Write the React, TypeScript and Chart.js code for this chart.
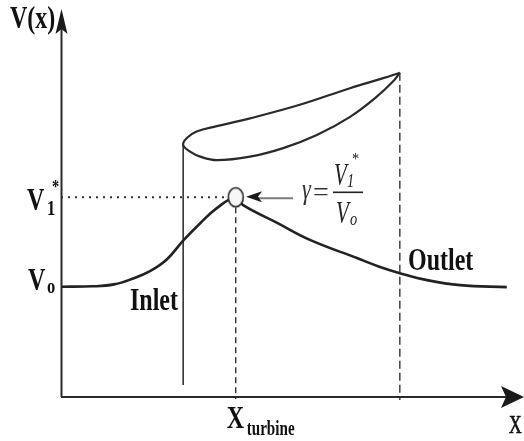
import React, { useEffect, useRef } from "react";
import { Chart, registerables } from "chart.js";

Chart.register(...registerables);

// ---- values (arbitrary units: x 0..100, y 0..100) ----
const V0 = 28.5; // free-stream velocity level
const V1 = 51.6; // velocity at the turbine
const X_TURBINE = 37.9; // turbine position
const X_WAKE_END = 73.5; // end of the stream-tube lobe
const X_STEM = 26.5; // left vertical line
const STEM_BOTTOM = 3.1;
const STEM_TOP = 65.1;

const velocityX = [0, 6.9, 11.5, 15.6, 19.3, 23.0, 26.5, 30.2, 33.8, 37.9, 39.5, 46.9, 54.0, 64.2, 69.2, 73.5, 79.4, 86.6, 96.7];
const velocityY = [28.5, 28.6, 29.1, 30.6, 32.5, 35.6, 40.4, 44.9, 48.8, 51.6, 49.6, 45.0, 40.6, 35.9, 33.6, 32.0, 30.2, 28.9, 28.4];

const lobeX = [73.5, 69.9, 62.7, 51.8, 41.0, 33.8, 29.4, 27.3, 26.5, 28.0, 30.2, 33.8, 41.0, 48.2, 55.5, 62.7, 68.5, 72.0, 73.5];
const lobeY = [83.8, 82.4, 79.8, 75.5, 72.0, 70.0, 68.6, 66.9, 65.1, 63.4, 62.1, 61.2, 62.1, 64.3, 67.7, 72.4, 77.6, 81.5, 83.8];

const axisTitles = ["V(x)", "X"];
const regionLabels = ["Inlet", "Outlet"];

const pts = (xs: number[], ys: number[]) => xs.map((x, i) => ({ x, y: ys[i] }));

function txt(ctx: CanvasRenderingContext2D, s: string, x: number, y: number, font: string, sx = 0.75, color = "#111", stroke = 0) {
  ctx.save();
  ctx.font = font;
  ctx.fillStyle = color;
  ctx.textAlign = "left";
  ctx.textBaseline = "alphabetic";
  ctx.translate(x, y);
  ctx.scale(sx, 1);
  ctx.fillText(s, 0, 0);
  if (stroke > 0) {
    ctx.strokeStyle = color;
    ctx.lineWidth = stroke;
    ctx.strokeText(s, 0, 0);
  }
  ctx.restore();
}

function stealth(ctx: CanvasRenderingContext2D, tip: [number, number], dir: [number, number], len: number, half: number, notch: number, color: string) {
  const [tx, ty] = tip;
  const [dx, dy] = dir;
  const nx = -dy, ny = dx;
  ctx.save();
  ctx.fillStyle = color;
  ctx.beginPath();
  ctx.moveTo(tx, ty);
  ctx.lineTo(tx - dx * len + nx * half, ty - dy * len + ny * half);
  ctx.lineTo(tx - dx * (len - notch), ty - dy * (len - notch));
  ctx.lineTo(tx - dx * len - nx * half, ty - dy * len - ny * half);
  ctx.closePath();
  ctx.fill();
  ctx.restore();
}

const SERIF = "'Liberation Serif', 'DejaVu Serif', serif";

const annotate = {
  id: "annotate",
  afterDatasetsDraw(chart: any) {
    const ctx: CanvasRenderingContext2D = chart.ctx;
    const xs = chart.scales.x;
    const ys = chart.scales.y;
    const { left, bottom } = chart.chartArea;
    const px = (v: number) => xs.getPixelForValue(v);
    const py = (v: number) => ys.getPixelForValue(v);

    // axes
    ctx.save();
    ctx.strokeStyle = "#2a2a2a";
    ctx.lineWidth = 2;
    ctx.beginPath();
    ctx.moveTo(left + 0.5, bottom);
    ctx.lineTo(left + 0.5, 28);
    ctx.moveTo(left, bottom);
    ctx.lineTo(506, bottom);
    ctx.stroke();
    ctx.restore();
    stealth(ctx, [left + 0.5, 9], [0, -1], 25, 6, 5, "#1a1a1a");
    stealth(ctx, [524, bottom], [1, 0], 23, 11, 5, "#1a1a1a");

    // axis titles
    txt(ctx, axisTitles[0], 10, 28, `bold 32px ${SERIF}`, 0.75);
    txt(ctx, axisTitles[1], 509, 433, `25px ${SERIF}`, 0.7, "#111", 0.7);

    // V1* label
    const y1 = py(V1);
    txt(ctx, "V", 27, y1 + 13, `bold 32px ${SERIF}`, 0.75);
    txt(ctx, "1", 47, y1 + 18, `bold 22px ${SERIF}`, 0.75);
    txt(ctx, "*", 52, y1 - 4, `bold 18px ${SERIF}`, 0.8);

    // Vo label
    const y0 = py(V0);
    txt(ctx, "V", 28, y0 + 3.5, `bold 32px ${SERIF}`, 0.75);
    txt(ctx, "o", 47, y0 + 6.5, `bold 22px ${SERIF}`, 0.75);

    // region labels
    txt(ctx, regionLabels[0], 130, 310, `bold 32px ${SERIF}`, 0.75);
    txt(ctx, regionLabels[1], 408, 270, `bold 32px ${SERIF}`, 0.75);

    // X_turbine
    const xt = px(X_TURBINE);
    txt(ctx, "X", xt - 9, 428, `bold 32px ${SERIF}`, 0.75);
    txt(ctx, "turbine", xt + 11, 435, `bold 21px ${SERIF}`, 0.72);

    // pointer arrow to the turbine marker
    ctx.save();
    ctx.strokeStyle = "#7a7a7a";
    ctx.lineWidth = 2;
    ctx.beginPath();
    ctx.moveTo(258, y1 + 1);
    ctx.lineTo(293, y1 + 1);
    ctx.stroke();
    ctx.restore();
    stealth(ctx, [246, y1 - 0.5], [-1, 0], 16, 5.5, 4, "#1a1a1a");

    // formula  gamma = V1* / Vo
    txt(ctx, "\u03b3", 302, y1 + 2, `italic 30px ${SERIF}`, 0.75, "#333");
    txt(ctx, "=", 313, y1 + 4, `28px ${SERIF}`, 1.0, "#333");
    ctx.save();
    ctx.strokeStyle = "#222";
    ctx.lineWidth = 1.6;
    ctx.beginPath();
    ctx.moveTo(333, y1 - 5);
    ctx.lineTo(363, y1 - 5);
    ctx.stroke();
    ctx.restore();
    txt(ctx, "V", 334, y1 - 12, `italic 31px ${SERIF}`, 0.68, "#222");
    txt(ctx, "1", 347, y1 - 10, `italic 18px ${SERIF}`, 0.8, "#222");
    txt(ctx, "*", 352, y1 - 33, `16px ${SERIF}`, 0.9, "#222");
    txt(ctx, "V", 336, y1 + 26, `italic 31px ${SERIF}`, 0.68, "#222");
    txt(ctx, "o", 350, y1 + 28, `italic 18px ${SERIF}`, 0.8, "#222");
  },
};

export default function App() {
  const ref = useRef<HTMLCanvasElement | null>(null);

  useEffect(() => {
    if (!ref.current) return;
    document.body.style.margin = "0";

    const marker = document.createElement("canvas");
    marker.width = 20;
    marker.height = 24;
    const mc = marker.getContext("2d")!;
    mc.beginPath();
    mc.ellipse(10, 12, 7.5, 9.5, 0, 0, Math.PI * 2);
    mc.fillStyle = "#f7f7f7";
    mc.fill();
    mc.lineWidth = 1.6;
    mc.strokeStyle = "#222";
    mc.stroke();

    const chart = new Chart(ref.current, {
      type: "scatter",
      data: {
        datasets: [
          {
            label: "turbine",
            data: [{ x: X_TURBINE, y: V1 }],
            pointStyle: marker as any,
            pointRadius: 10,
            showLine: false,
            clip: false,
          },
          {
            label: "V(x)",
            data: pts(velocityX, velocityY),
            showLine: true,
            borderColor: "#222",
            borderWidth: 2.6,
            pointRadius: 0,
            tension: 0.4,
          },
          {
            label: "lobe",
            data: pts(lobeX, lobeY),
            showLine: true,
            borderColor: "#2a2a2a",
            borderWidth: 2.2,
            pointRadius: 0,
            tension: 0.4,
          },
          {
            label: "stem",
            data: [
              { x: X_STEM, y: STEM_BOTTOM },
              { x: X_STEM, y: STEM_TOP },
            ],
            showLine: true,
            borderColor: "#333",
            borderWidth: 1.6,
            pointRadius: 0,
          },
          {
            label: "V1 level",
            data: [
              { x: 0, y: V1 },
              { x: X_TURBINE, y: V1 },
            ],
            showLine: true,
            borderColor: "#333",
            borderWidth: 2,
            borderDash: [2, 5],
            pointRadius: 0,
          },
          {
            label: "turbine line",
            data: [
              { x: X_TURBINE, y: V1 },
              { x: X_TURBINE, y: -0.5 },
            ],
            showLine: true,
            borderColor: "#333",
            borderWidth: 1.4,
            borderDash: [6, 4],
            pointRadius: 0,
            clip: false,
          },
          {
            label: "wake end",
            data: [
              { x: X_WAKE_END, y: lobeY[0] },
              { x: X_WAKE_END, y: -0.8 },
            ],
            showLine: true,
            borderColor: "#333",
            borderWidth: 1.4,
            borderDash: [8, 4],
            pointRadius: 0,
            clip: false,
          },
        ] as any,
      },
      options: {
        responsive: false,
        animation: false,
        devicePixelRatio: 1,
        layout: { autoPadding: false, padding: { left: 61, right: 2, top: 10, bottom: 44 } },
        scales: {
          x: { type: "linear", min: 0, max: 100, display: false },
          y: { type: "linear", min: 0, max: 100, display: false },
        },
        plugins: { legend: { display: false }, tooltip: { enabled: false } },
      },
      plugins: [annotate],
    });
    return () => chart.destroy();
  }, []);

  return (
    <div style={{ position: "absolute", left: 0, top: 0, width: 524, height: 441, background: "#fff" }}>
      <canvas ref={ref} width={524} height={441} style={{ display: "block" }} />
    </div>
  );
}
